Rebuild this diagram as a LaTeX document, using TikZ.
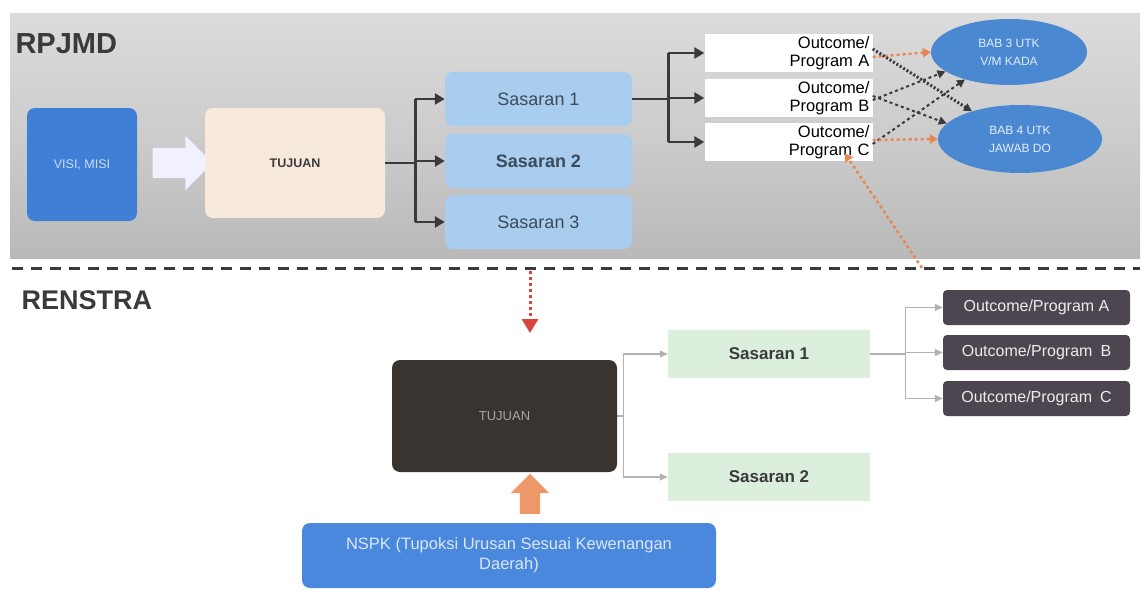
\documentclass[tikz,border=0pt]{standalone}
\usepackage{fontspec}
\setmainfont{Liberation Sans}
\usetikzlibrary{arrows.meta,shapes.geometric,shapes.arrows}

\definecolor{azul}{HTML}{3F7FD6}
\definecolor{azulclaro}{HTML}{4A88DE}
\definecolor{melocoton}{HTML}{F8E9DD}
\definecolor{celeste}{HTML}{A9CDEE}
\definecolor{pizarra}{HTML}{3C4A5C}
\definecolor{naranja}{HTML}{E9864F}
\definecolor{rojo}{HTML}{D9453A}
\definecolor{verde}{HTML}{DCEFDD}
\definecolor{morado}{HTML}{4D4550}
\definecolor{carbon}{HTML}{3A3431}
\definecolor{elipse}{HTML}{4A88D2}
\definecolor{oscuro}{HTML}{3A3A3A}

\begin{document}
\begin{tikzpicture}[x=1pt, y=-1pt,
    caja/.style={rounded corners=8pt, inner sep=2pt, align=center},
    sasaran/.style={caja, fill=celeste, text=pizarra, minimum width=187, minimum height=54,
        font=\fontsize{18}{21}\selectfont},
    outcome/.style={fill=white, inner xsep=3pt, inner ysep=0pt, text width=162, align=right,
        minimum height=38, font=\fontsize{16.5}{18}\selectfont},
    bab/.style={ellipse, fill=elipse, text=white!85!elipse, align=center, inner sep=0pt,
        font=\fontsize{12}{18}\selectfont},
    verdebox/.style={fill=verde, text=oscuro, minimum width=202, minimum height=48,
        font=\bfseries\fontsize{17}{20}\selectfont},
    progbox/.style={rounded corners=4pt, fill=morado, text=white!90!morado, minimum width=187,
        minimum height=35, font=\fontsize{16}{18}\selectfont},
    rama/.style={oscuro, line width=2.6pt},
    flecha/.style={rama, -{Triangle[length=10pt, width=11pt]}},
    ramafina/.style={gray!60, line width=1.3pt},
    flechafina/.style={ramafina, -{Triangle[length=8pt, width=7pt]}},
    enlace/.style={oscuro, line width=2pt, -{Triangle[length=8pt, width=8pt]}},
    enlacena/.style={naranja, line width=2.4pt, dashed, -{Triangle[length=8pt, width=9pt]}},
    titulo/.style={text=oscuro, font=\bfseries\fontsize{29}{32}\selectfont, anchor=west}
]

    % Marco de la imagen
    \useasboundingbox (0,0) rectangle (1144,594);
    \fill[white] (0,0) rectangle (1144,594);

    % 1. Banda gris del RPJMD
    \shade[top color=gray!28!white, bottom color=gray!55!white, middle color=gray!40!white]
        (10,14) rectangle (1140,258);
    \node[titulo] (rpjmd) at (12,44) {RPJMD};

    % 2. Visi misi, flecha blanca y tujuan
    \node[caja, fill=azul, text=white!75!azul, minimum width=110, minimum height=113,
        font=\fontsize{12.5}{14}\selectfont] (visi) at (82,164.5) {VISI, MISI};
    \node[single arrow, fill=blue!6!white, minimum height=60, inner xsep=0pt, inner ysep=15pt,
        single arrow head extend=12] (blanca) at (175,163) {};
    \node[caja, fill=melocoton, text=oscuro, minimum width=180, minimum height=110,
        font=\bfseries\fontsize{12.5}{14}\selectfont] (tujuan) at (295,163) {TUJUAN};

    % 3. Sasaran del RPJMD
    \node[sasaran] (sas1) at (538.5,99) {Sasaran 1};
    \node[sasaran, font=\bfseries\fontsize{18}{21}\selectfont] (sas2) at (538.5,161) {Sasaran 2};
    \node[sasaran] (sas3) at (538.5,222) {Sasaran 3};

    \draw[rama] (tujuan.east) -- ++(30,0) coordinate (nudo1);
    \draw[rama] (nudo1 |- sas1.west) -- (nudo1 |- sas3.west);
    \foreach \s in {sas1,sas2,sas3} {
        \draw[flecha] (nudo1 |- \s.west) -- (\s.west);
    }

    % 4. Outcome / programa
    \node[outcome] (outA) at (788.5,53) {Outcome/\\Program A};
    \node[outcome] (outB) at (788.5,98) {Outcome/\\Program B};
    \node[outcome] (outC) at (788.5,142) {Outcome/\\Program C};

    \draw[rama] (sas1.east) -- ++(36,0) coordinate (nudo2);
    \draw[rama] (nudo2 |- outA.west) -- (nudo2 |- outC.west);
    \foreach \o in {outA,outB,outC} {
        \draw[flecha] (nudo2 |- \o.west) -- (\o.west);
    }

    % 5. Elipses BAB 3 y BAB 4
    \node[bab, minimum width=156, minimum height=66] (bab3) at (1009,52) {BAB 3 UTK\\V/M KADA};
    \node[bab, minimum width=164, minimum height=68] (bab4) at (1020,139) {BAB 4 UTK\\JAWAB DO};

    % 6. Enlaces punteados entre programas y bab
    \draw[enlacena] ([yshift=-4]outA.east) -- (bab3.west);
    \draw[enlace, dotted, line width=3pt] ([yshift=4]outA.east) -- (bab4.150);
    \draw[enlace, dashed] ([yshift=-2]outB.east) -- (bab3.197);
    \draw[enlace, dashed] ([yshift=2]outB.east) -- (bab4.168);
    \draw[enlace, dashed] ([yshift=-2]outC.east) -- (bab3.212);
    \draw[enlacena] ([yshift=2]outC.east) -- (bab4.west);

    % 7. Linea divisoria y RENSTRA
    \coordinate (corte) at (922,268);
    \draw[oscuro, line width=3pt, dash pattern=on 11pt off 8pt] (12,268) -- (1140,268);
    \draw[enlacena] (corte) -- ([xshift=-28,yshift=8]outC.south east);
    \node[titulo, font=\bfseries\fontsize{27}{30}\selectfont] (renstra) at (18,300) {RENSTRA};

    % 8. Tujuan del RENSTRA
    \node[caja, fill=carbon, text=gray!70, minimum width=225, minimum height=112,
        font=\fontsize{13}{15}\selectfont] (tujuanR) at (504.5,416) {TUJUAN};
    \coordinate (bajada) at (530,271);
    \draw[rojo, line width=3pt, dashed, -{Triangle[length=14pt, width=16pt]}] (bajada) -- (530,333);

    % 9. Sasaran del RENSTRA
    \node[verdebox] (ver1) at (769,354) {Sasaran 1};
    \node[verdebox] (ver2) at (769,477) {Sasaran 2};

    \draw[ramafina] (tujuanR.east) -- ++(6,0) coordinate (nudo3);
    \draw[ramafina] (nudo3 |- ver1.west) -- (nudo3 |- ver2.west);
    \foreach \v in {ver1,ver2} {
        \draw[flechafina] (nudo3 |- \v.west) -- (\v.west);
    }

    % 10. Programas del RENSTRA
    \node[progbox] (progA) at (1036.5,307.5) {Outcome/Program A};
    \node[progbox] (progB) at (1036.5,352.5) {Outcome/Program\enspace B};
    \node[progbox] (progC) at (1036.5,398.5) {Outcome/Program\enspace C};

    \draw[ramafina] (ver1.east) -- ++(35,0) coordinate (nudo4);
    \draw[ramafina] (nudo4 |- progA.west) -- (nudo4 |- progC.west);
    \foreach \p in {progA,progB,progC} {
        \draw[flechafina] (nudo4 |- \p.west) -- (\p.west);
    }

    % 11. NSPK y flecha naranja
    \node[caja, fill=azulclaro, text=white!80!azulclaro, minimum width=414, minimum height=65,
        font=\fontsize{16.5}{20}\selectfont] (nspk) at (509,555.5)
        {NSPK (Tupoksi Urusan Sesuai Kewenangan\\Daerah)};
    \node[single arrow, fill=naranja!85!white, minimum height=40, inner xsep=0pt, inner ysep=10pt,
        single arrow head extend=9, rotate=90] (subida) at (530,499) {};

\end{tikzpicture}
\end{document}
